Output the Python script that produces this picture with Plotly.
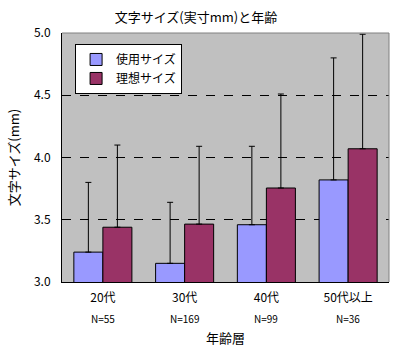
import plotly.graph_objects as go

categories = ["20代", "30代", "40代", "50代以上"]
n_labels = ["N=55", "N=169", "N=99", "N=36"]
used = [3.24, 3.15, 3.46, 3.82]
used_err = [0.56, 0.49, 0.63, 0.98]
ideal = [3.44, 3.465, 3.755, 4.07]
ideal_err = [0.66, 0.625, 0.755, 0.92]

FONT = "Noto Sans CJK JP, Noto Sans, sans-serif"

fig = go.Figure()
fig.add_trace(go.Bar(
    name="使用サイズ", x=categories, y=used,
    marker=dict(color="#9999FF", line=dict(color="black", width=1)),
    error_y=dict(type="data", symmetric=False, array=used_err,
                 arrayminus=[0] * len(used), color="black", thickness=1, width=3),
))
fig.add_trace(go.Bar(
    name="理想サイズ", x=categories, y=ideal,
    marker=dict(color="#993366", line=dict(color="black", width=1)),
    error_y=dict(type="data", symmetric=False, array=ideal_err,
                 arrayminus=[0] * len(ideal), color="black", thickness=1, width=3),
))

for c, n in zip(categories, n_labels):
    fig.add_annotation(x=c, y=0, xref="x", yref="paper", text=n, showarrow=False,
                       yanchor="top", yshift=-27, font=dict(size=10, color="black", family=FONT))

fig.add_shape(type="line", xref="paper", yref="paper", x0=0, x1=1, y0=1, y1=1,
              line=dict(color="#808080", width=1), layer="above")
fig.add_shape(type="line", xref="paper", yref="paper", x0=1, x1=1, y0=0, y1=1,
              line=dict(color="#808080", width=1), layer="above")

fig.update_layout(
    width=400, height=350,
    margin=dict(l=62, r=11, t=33, b=68, autoexpand=False),
    paper_bgcolor="white", plot_bgcolor="#C0C0C0",
    font=dict(family=FONT, size=12, color="black"),
    title=dict(text="文字サイズ(実寸mm)と年齢", x=0.49, xanchor="center", y=0.95, yanchor="middle",
               font=dict(size=13)),
    barmode="group", bargap=0.29, bargroupgap=0.0,
    showlegend=True,
    legend=dict(x=0.04, y=0.956, xanchor="left", yanchor="top",
                bgcolor="white", bordercolor="black", borderwidth=1,
                font=dict(size=12), tracegroupgap=0, itemwidth=30),
    xaxis=dict(showline=True, linecolor="black", linewidth=1, ticks="", automargin=False,
               tickfont=dict(size=12), showgrid=False, ticklabelstandoff=5,
               title=dict(text="年齢層", font=dict(size=13), standoff=29)),
    yaxis=dict(range=[3, 5], dtick=0.5, tickformat=".1f", showline=True, linecolor="black",
               linewidth=1, ticks="", showgrid=True, gridcolor="black", griddash="dash",
               gridwidth=1, zeroline=False, tickfont=dict(size=12), ticklabelstandoff=8,
               automargin=False,
               title=dict(text="文字サイズ(mm)", font=dict(size=13), standoff=11)),
)

fig.write_html("out.html")
